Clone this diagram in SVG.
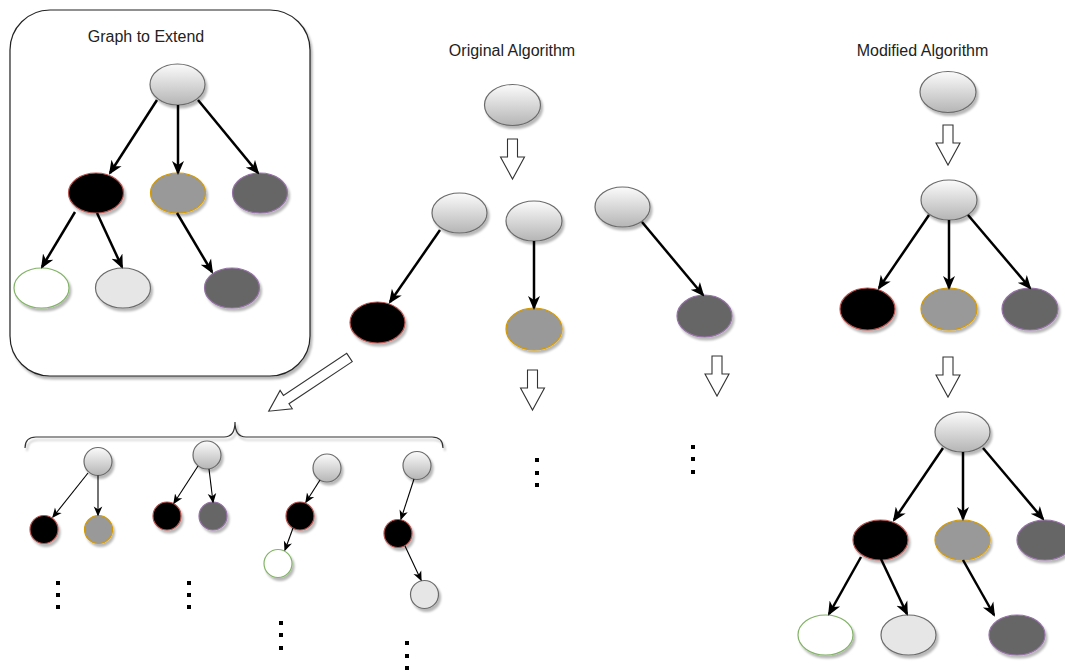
<svg xmlns="http://www.w3.org/2000/svg" width="1065" height="670" viewBox="0 0 1065 670">
  <defs>
    <linearGradient id="lightFill" x1="0" y1="0" x2="0" y2="1">
      <stop offset="0" stop-color="#fbfbfb"/>
      <stop offset="1" stop-color="#b5b5b5"/>
    </linearGradient>
    <filter id="shadow" x="-20%" y="-20%" width="150%" height="150%">
      <feDropShadow dx="2" dy="3" stdDeviation="1.3" flood-color="#000" flood-opacity="0.28"/>
    </filter>
    <marker id="head" viewBox="0 0 14 14" refX="12" refY="7" markerWidth="14" markerHeight="14" markerUnits="userSpaceOnUse" orient="auto">
      <path d="M0,1 L14,7 L0,13 L4,7 Z" fill="#000"/>
    </marker>
    <marker id="headSmall" viewBox="0 0 14 14" refX="12" refY="7" markerWidth="10" markerHeight="10" markerUnits="userSpaceOnUse" orient="auto">
      <path d="M0,1 L14,7 L0,13 L4,7 Z" fill="#000"/>
    </marker>
    <!-- hollow block arrow pointing down, top centre at origin -->
    <path id="blockDown" d="M-5,0 H5 V18 H12 L0,40 L-12,18 H-5 Z"/>
    <rect id="dot" x="-2" y="-2" width="4" height="4"/>
  </defs>
  <style>
    text { font-family: "Liberation Sans", Arial, sans-serif; font-size: 16px; fill: #222; text-anchor: middle; }
    .n { filter: url(#shadow); stroke-width: 1.2; }
    .light { fill: url(#lightFill); stroke: #6b6b6b; }
    .black { fill: #000; stroke: #b85450; }
    .mid { fill: #999; stroke: #d79b00; }
    .dark { fill: #666; stroke: #9673a6; }
    .white { fill: #fff; stroke: #82b366; }
    .pale { fill: #e6e6e6; stroke: #6b6b6b; }
    .edge { stroke: #000; stroke-width: 2.5; fill: none; marker-end: url(#head); }
    .edge-s { stroke: #000; stroke-width: 1.1; fill: none; marker-end: url(#headSmall); }
    .block { fill: #fff; stroke: #333; stroke-width: 1.1; }
    .dots { fill: #000; }
  </style>

  <!-- framed sample graph -->
  <g id="box-graph">
    <rect x="10" y="10" width="300" height="366" rx="40" ry="40" fill="#fff" stroke="#222" stroke-width="1.2" filter="url(#shadow)"/>
    <text x="146" y="42">Graph to Extend</text>
  </g>
  <g id="g1-root"><ellipse class="n light" cx="177.5" cy="84.5" rx="27.5" ry="20.5"/></g>
  <g id="g1-a"><ellipse class="n black" cx="96" cy="193" rx="27.5" ry="20"/></g>
  <g id="g1-b"><ellipse class="n mid" cx="178" cy="193" rx="27.5" ry="20"/></g>
  <g id="g1-c"><ellipse class="n dark" cx="260" cy="193" rx="27.5" ry="20"/></g>
  <g id="g1-d"><ellipse class="n white" cx="41.5" cy="288" rx="27.5" ry="20"/></g>
  <g id="g1-e"><ellipse class="n pale" cx="123" cy="288" rx="27.5" ry="20"/></g>
  <g id="g1-f"><ellipse class="n dark" cx="232" cy="288" rx="27.5" ry="20"/></g>

  <!-- original algorithm column -->
  <g id="title-original"><text x="512" y="56">Original Algorithm</text></g>
  <g id="o-root"><ellipse class="n light" cx="512.5" cy="105" rx="28" ry="20.5"/></g>
  <g id="o-top-a"><ellipse class="n light" cx="459.5" cy="213" rx="27.5" ry="20"/></g>
  <g id="o-top-b"><ellipse class="n light" cx="534" cy="221" rx="28" ry="20"/></g>
  <g id="o-top-c"><ellipse class="n light" cx="622.5" cy="207" rx="27.5" ry="20"/></g>
  <g id="o-a"><ellipse class="n black" cx="377.5" cy="322.5" rx="27.5" ry="20.5"/></g>
  <g id="o-b"><ellipse class="n mid" cx="534" cy="329" rx="28" ry="21"/></g>
  <g id="o-c"><ellipse class="n dark" cx="704.5" cy="316" rx="27.5" ry="21"/></g>

  <!-- modified algorithm column -->
  <g id="title-modified"><text x="922.5" y="56">Modified Algorithm</text></g>
  <g id="m-root"><ellipse class="n light" cx="948" cy="92" rx="28" ry="20.5"/></g>
  <g id="m1-root"><ellipse class="n light" cx="949" cy="200" rx="28" ry="20"/></g>
  <g id="m1-a"><ellipse class="n black" cx="867.5" cy="309" rx="27.5" ry="21"/></g>
  <g id="m1-b"><ellipse class="n mid" cx="949" cy="309" rx="28" ry="21"/></g>
  <g id="m1-c"><ellipse class="n dark" cx="1030" cy="309" rx="28" ry="21"/></g>
  <g id="m2-root"><ellipse class="n light" cx="962.5" cy="432" rx="27.5" ry="20"/></g>
  <g id="m2-a"><ellipse class="n black" cx="880.5" cy="540" rx="27.5" ry="20"/></g>
  <g id="m2-b"><ellipse class="n mid" cx="962.5" cy="540" rx="27.5" ry="20"/></g>
  <g id="m2-c"><ellipse class="n dark" cx="1045" cy="540" rx="28" ry="20"/></g>
  <g id="m2-d"><ellipse class="n white" cx="825.5" cy="635" rx="27.5" ry="20"/></g>
  <g id="m2-e"><ellipse class="n pale" cx="908.5" cy="635" rx="27.5" ry="20"/></g>
  <g id="m2-f"><ellipse class="n dark" cx="1017" cy="635" rx="28" ry="20"/></g>

  <!-- extensions of the sample graph -->
  <g id="brace"><path d="M25,448 Q25,437 36,437 H224 Q235,437 235,422 Q235,437 246,437 H432 Q443,437 443,448" fill="none" stroke="#333" stroke-width="1.2" filter="url(#shadow)"/></g>
  <g id="t1-root"><circle class="n light" cx="98" cy="461.5" r="14"/></g>
  <g id="t1-a"><circle class="n black" cx="44" cy="529.5" r="14"/></g>
  <g id="t1-b"><circle class="n mid" cx="98.5" cy="529.5" r="14"/></g>
  <g id="t2-root"><circle class="n light" cx="207" cy="455" r="14"/></g>
  <g id="t2-a"><circle class="n black" cx="167" cy="516" r="14"/></g>
  <g id="t2-b"><circle class="n dark" cx="213" cy="516" r="14"/></g>
  <g id="t3-root"><circle class="n light" cx="327" cy="468" r="14"/></g>
  <g id="t3-a"><circle class="n black" cx="300" cy="516" r="14"/></g>
  <g id="t3-b"><circle class="n white" cx="278" cy="563.5" r="14"/></g>
  <g id="t4-root"><circle class="n light" cx="417" cy="465.5" r="14"/></g>
  <g id="t4-a"><circle class="n black" cx="398" cy="533.5" r="14"/></g>
  <g id="t4-b"><circle class="n pale" cx="424.5" cy="594.5" r="14"/></g>

  <!-- continuation marks -->
  <g id="dots" class="dots">
    <use href="#dot" x="58" y="583"/><use href="#dot" x="58" y="595"/><use href="#dot" x="58" y="607"/>
    <use href="#dot" x="189" y="583"/><use href="#dot" x="189" y="595"/><use href="#dot" x="189" y="607"/>
    <use href="#dot" x="281" y="623"/><use href="#dot" x="281" y="635"/><use href="#dot" x="281" y="648"/>
    <use href="#dot" x="407" y="643"/><use href="#dot" x="407" y="656"/><use href="#dot" x="407" y="668"/>
    <use href="#dot" x="537" y="460"/><use href="#dot" x="537" y="473"/><use href="#dot" x="537" y="485"/>
    <use href="#dot" x="693" y="447"/><use href="#dot" x="693" y="459"/><use href="#dot" x="693" y="472"/>
  </g>

  <g id="connectors">
    <!-- sample graph edges -->
    <line class="edge" x1="157" y1="100" x2="110" y2="173"/>
    <line class="edge" x1="178" y1="105" x2="178" y2="173"/>
    <line class="edge" x1="198" y1="100" x2="258" y2="173"/>
    <line class="edge" x1="75" y1="212" x2="42" y2="267"/>
    <line class="edge" x1="97" y1="213" x2="122" y2="267"/>
    <line class="edge" x1="177" y1="213" x2="212" y2="272"/>
    <!-- original algorithm edges -->
    <line class="edge" x1="440" y1="230" x2="390" y2="302"/>
    <line class="edge" x1="534" y1="241" x2="534" y2="308"/>
    <line class="edge" x1="642" y1="222" x2="703" y2="295"/>
    <!-- modified algorithm edges -->
    <line class="edge" x1="929" y1="215" x2="879" y2="288"/>
    <line class="edge" x1="949" y1="220" x2="949" y2="288"/>
    <line class="edge" x1="968" y1="215" x2="1030" y2="288"/>
    <line class="edge" x1="943" y1="448" x2="894" y2="520"/>
    <line class="edge" x1="963" y1="452" x2="963" y2="519"/>
    <line class="edge" x1="983" y1="448" x2="1043" y2="519"/>
    <line class="edge" x1="861" y1="557" x2="829" y2="614"/>
    <line class="edge" x1="881" y1="559" x2="907" y2="614"/>
    <line class="edge" x1="963" y1="560" x2="994" y2="615"/>
    <!-- extension edges -->
    <line class="edge-s" x1="88" y1="473" x2="53" y2="517"/>
    <line class="edge-s" x1="98" y1="475.5" x2="98" y2="515"/>
    <line class="edge-s" x1="198" y1="466" x2="174" y2="503"/>
    <line class="edge-s" x1="209" y1="469" x2="213" y2="502"/>
    <line class="edge-s" x1="320" y1="480" x2="306" y2="502"/>
    <line class="edge-s" x1="293" y1="528" x2="285" y2="550"/>
    <line class="edge-s" x1="414" y1="479" x2="401" y2="519"/>
    <line class="edge-s" x1="405" y1="546" x2="421" y2="580"/>
    <!-- hollow step arrows -->
    <use href="#blockDown" class="block" x="512.5" y="139"/>
    <use href="#blockDown" class="block" x="532.5" y="370"/>
    <use href="#blockDown" class="block" x="717" y="356"/>
    <use href="#blockDown" class="block" x="948" y="125"/>
    <use href="#blockDown" class="block" x="948" y="357"/>
    <path class="block" transform="translate(349.5,357.5) rotate(146.4)" d="M0,-5 H76 V-11 L97,0 L76,11 V5 H0 Z"/>
  </g>
</svg>
